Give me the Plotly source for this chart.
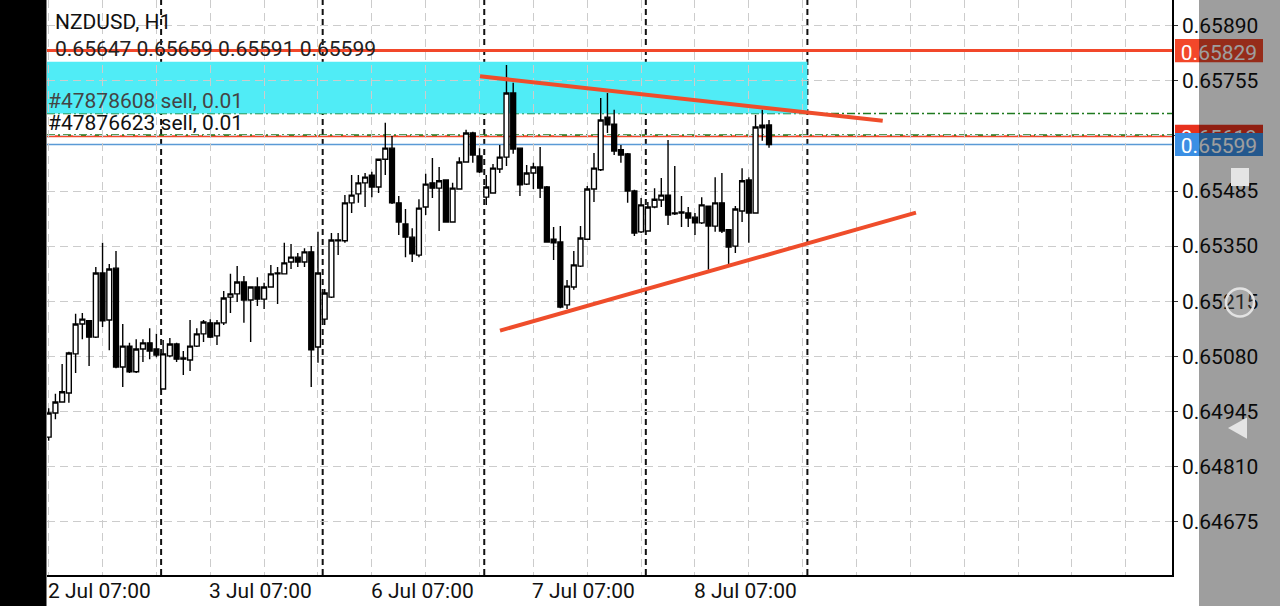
import plotly.graph_objects as go

# ---------------- data ----------------
symbol_title = "NZDUSD, H1"
ohlc_text = "0.65647 0.65659 0.65591 0.65599"

opens = [
    0.64882, 0.64941, 0.64968, 0.64990, 0.65086, 0.65159, 0.65167, 0.65127, 0.65284, 0.65169,
    0.65296, 0.65054, 0.65105, 0.65042, 0.65098, 0.65113, 0.65098, 0.65000, 0.65081, 0.65110,
    0.65076, 0.65071, 0.65105, 0.65135, 0.65162, 0.65130, 0.65162, 0.65225, 0.65233, 0.65262,
    0.65218, 0.65250, 0.65220, 0.65250, 0.65282, 0.65282, 0.65311, 0.65323, 0.65311, 0.65336,
    0.65103, 0.65171, 0.65225, 0.65365, 0.65363, 0.65456, 0.65478, 0.65505, 0.65524, 0.65495,
    0.65563, 0.65590, 0.65456, 0.65404, 0.65372, 0.65328, 0.65446, 0.65505, 0.65492, 0.65512,
    0.65409, 0.65490, 0.65556, 0.65627, 0.65571, 0.65470, 0.65480, 0.65539, 0.65568, 0.65725,
    0.65590, 0.65502, 0.65529, 0.65544, 0.65495, 0.65367, 0.65360, 0.65206, 0.65250, 0.65301,
    0.65367, 0.65490, 0.65537, 0.65666, 0.65649, 0.65586, 0.65576, 0.65485, 0.65385, 0.65387,
    0.65446, 0.65463, 0.65475, 0.65431, 0.65431, 0.65431, 0.65421, 0.65407, 0.65448, 0.65399,
    0.65456, 0.65390, 0.65350, 0.65436, 0.65512, 0.65431, 0.65640, 0.65647]

highs = [
    0.64953, 0.64988, 0.65061, 0.65091, 0.65184, 0.65186, 0.65169, 0.65299, 0.65358, 0.65306,
    0.65338, 0.65159, 0.65113, 0.65122, 0.65122, 0.65149, 0.65135, 0.65120, 0.65125, 0.65113,
    0.65093, 0.65169, 0.65149, 0.65169, 0.65171, 0.65169, 0.65240, 0.65282, 0.65301, 0.65277,
    0.65250, 0.65274, 0.65260, 0.65304, 0.65299, 0.65358, 0.65355, 0.65333, 0.65345, 0.65350,
    0.65385, 0.65245, 0.65382, 0.65382, 0.65475, 0.65524, 0.65524, 0.65529, 0.65532, 0.65563,
    0.65652, 0.65620, 0.65473, 0.65441, 0.65394, 0.65465, 0.65527, 0.65566, 0.65544, 0.65514,
    0.65505, 0.65568, 0.65635, 0.65630, 0.65590, 0.65524, 0.65551, 0.65598, 0.65794, 0.65750,
    0.65590, 0.65549, 0.65554, 0.65593, 0.65497, 0.65397, 0.65399, 0.65267, 0.65338, 0.65399,
    0.65497, 0.65578, 0.65713, 0.65725, 0.65684, 0.65598, 0.65578, 0.65488, 0.65468, 0.65458,
    0.65492, 0.65517, 0.65610, 0.65546, 0.65473, 0.65446, 0.65431, 0.65470, 0.65448, 0.65519,
    0.65529, 0.65390, 0.65448, 0.65541, 0.65519, 0.65671, 0.65684, 0.65659]

lows = [
    0.64873, 0.64926, 0.64966, 0.64966, 0.65039, 0.65122, 0.65056, 0.65125, 0.65152, 0.65095,
    0.65051, 0.65005, 0.65039, 0.65039, 0.65066, 0.65073, 0.65078, 0.64998, 0.65078, 0.65066,
    0.65034, 0.65044, 0.65103, 0.65115, 0.65125, 0.65108, 0.65157, 0.65186, 0.65213, 0.65162,
    0.65115, 0.65203, 0.65196, 0.65250, 0.65208, 0.65282, 0.65294, 0.65299, 0.65299, 0.65005,
    0.65064, 0.65157, 0.65223, 0.65328, 0.65358, 0.65431, 0.65456, 0.65446, 0.65470, 0.65480,
    0.65524, 0.65453, 0.65377, 0.65323, 0.65311, 0.65323, 0.65426, 0.65468, 0.65387, 0.65407,
    0.65409, 0.65488, 0.65554, 0.65554, 0.65529, 0.65451, 0.65480, 0.65529, 0.65546, 0.65576,
    0.65473, 0.65500, 0.65490, 0.65468, 0.65358, 0.65316, 0.65198, 0.65196, 0.65243, 0.65299,
    0.65365, 0.65458, 0.65534, 0.65627, 0.65573, 0.65554, 0.65456, 0.65375, 0.65382, 0.65385,
    0.65443, 0.65446, 0.65402, 0.65426, 0.65397, 0.65397, 0.65377, 0.65404, 0.65292, 0.65385,
    0.65382, 0.65306, 0.65333, 0.65409, 0.65358, 0.65429, 0.65608, 0.65591]

closes = [
    0.64941, 0.64968, 0.64993, 0.65088, 0.65159, 0.65171, 0.65127, 0.65284, 0.65167, 0.65294,
    0.65054, 0.65105, 0.65042, 0.65098, 0.65113, 0.65093, 0.65083, 0.65086, 0.65110, 0.65073,
    0.65073, 0.65105, 0.65135, 0.65164, 0.65127, 0.65162, 0.65223, 0.65233, 0.65262, 0.65218,
    0.65250, 0.65220, 0.65250, 0.65282, 0.65284, 0.65309, 0.65323, 0.65311, 0.65336, 0.65096,
    0.65284, 0.65235, 0.65365, 0.65363, 0.65456, 0.65475, 0.65505, 0.65519, 0.65495, 0.65563,
    0.65590, 0.65456, 0.65409, 0.65372, 0.65331, 0.65443, 0.65502, 0.65492, 0.65510, 0.65409,
    0.65492, 0.65556, 0.65627, 0.65573, 0.65532, 0.65495, 0.65541, 0.65568, 0.65725, 0.65588,
    0.65500, 0.65529, 0.65544, 0.65492, 0.65360, 0.65358, 0.65201, 0.65252, 0.65304, 0.65370,
    0.65490, 0.65541, 0.65659, 0.65647, 0.65583, 0.65573, 0.65485, 0.65382, 0.65451, 0.65446,
    0.65465, 0.65475, 0.65426, 0.65429, 0.65434, 0.65419, 0.65407, 0.65451, 0.65399, 0.65456,
    0.65387, 0.65348, 0.65441, 0.65510, 0.65431, 0.65642, 0.65646, 0.65599]

x_label_idx = [0, 24, 48, 72, 96]
x_label_text = ["2 Jul 07:00", "3 Jul 07:00", "6 Jul 07:00", "7 Jul 07:00", "8 Jul 07:00"]
day_start_idx = [17, 41, 65, 89, 113]          # 00:00 candle of each new day

price_tick0 = 0.64675
price_step = 0.00135
price_range = [0.645442, 0.659530]
bar_range = [-0.25, 166.86]

red_levels = [0.65829, 0.65619]                 # user horizontal lines
position_levels = [0.65675, 0.65622]            # open sell positions
position_labels = ["#47878608 sell, 0.01", "#47876623 sell, 0.01"]
bid_price = 0.65599
zone_idx = [-20, 113]
zone_prices = [0.65675, 0.65802]
trend_upper = {"idx": [64.07, 123.89], "price": [0.65766, 0.65657]}
trend_lower = {"idx": [67.04, 128.83], "price": [0.65143, 0.65432]}

# ---------------- geometry helpers ----------------
W, H = 1280, 606
ML, MR, MT, MB = 47, 108, 0, 31
PW, PH = W - ML - MR, H - MT - MB


def px_x(px):
    return (px - ML) / PW


def px_y(py):
    return 1 - (py - MT) / PH


price_per_px = (price_range[1] - price_range[0]) / PH
FONT = "Roboto, 'Noto Sans', sans-serif"
FS = 21
RED = "#f2472a"
BLUE = "#3b8fe4"
GREEN = "#1f7a1f"

idx = list(range(len(opens)))

fig = go.Figure()
fig.add_trace(go.Candlestick(
    x=idx, open=opens, high=highs, low=lows, close=closes,
    increasing=dict(fillcolor="white", line=dict(color="black", width=1.4)),
    decreasing=dict(fillcolor="black", line=dict(color="black", width=1.4)),
    whiskerwidth=0, hoverinfo="none", showlegend=False,
))

shapes = []
# cyan zone (below grid)
shapes.append(dict(type="rect", xref="x", yref="y", layer="below",
                   x0=zone_idx[0], x1=zone_idx[1] - 0.3, y0=zone_prices[0], y1=zone_prices[1],
                   fillcolor="rgb(80,236,246)", line=dict(width=0)))
# day separators
for d in day_start_idx:
    shapes.append(dict(type="line", xref="x", yref="paper", layer="between",
                       x0=d - 0.3, x1=d - 0.3, y0=0, y1=1,
                       line=dict(color="#111111", width=2, dash="6px,4px")))
# horizontal levels
shapes.append(dict(type="line", xref="paper", yref="y", layer="between", x0=0, x1=1,
                   y0=red_levels[0], y1=red_levels[0], line=dict(color=RED, width=3)))
shapes.append(dict(type="line", xref="paper", yref="y", layer="between", x0=0, x1=1,
                   y0=red_levels[1], y1=red_levels[1], line=dict(color=RED, width=2)))
for lv in position_levels:
    shapes.append(dict(type="line", xref="paper", yref="y", layer="between", x0=0, x1=1,
                       y0=lv, y1=lv, line=dict(color=GREEN, width=1.5, dash="8px,3px,2px,3px")))
shapes.append(dict(type="line", xref="paper", yref="y", layer="between", x0=0, x1=1,
                   y0=bid_price, y1=bid_price, line=dict(color="#5a9ad6", width=1.5)))
# trend lines
for tl in (trend_upper, trend_lower):
    shapes.append(dict(type="line", xref="x", yref="y", layer="above",
                       x0=tl["idx"][0], x1=tl["idx"][1], y0=tl["price"][0], y1=tl["price"][1],
                       line=dict(color="#ef4d2b", width=4)))

# price label boxes on the right scale
half_box = 11.6 * price_per_px
for price, color in ((red_levels[0], RED), (red_levels[1], "#e8321e"), (bid_price, BLUE)):
    shapes.append(dict(type="rect", xref="paper", yref="y", layer="above",
                       x0=px_x(1175), x1=px_x(1263), y0=price - half_box, y1=price + half_box,
                       fillcolor=color, line=dict(width=0),
                       label=dict(text=f"{price:.5f}", font=dict(color="white", size=FS, family=FONT),
                                  textposition="middle center")))
# left black strip
shapes.append(dict(type="rect", xref="paper", yref="paper", layer="above",
                   x0=px_x(0), x1=px_x(46.5), y0=px_y(H), y1=px_y(0),
                   fillcolor="black", line=dict(width=0)))
# right translucent navigation strip
shapes.append(dict(type="rect", xref="paper", yref="paper", layer="above",
                   x0=px_x(1199), x1=px_x(W), y0=px_y(H), y1=px_y(0),
                   fillcolor="rgba(0,0,0,0.38)", line=dict(width=0)))
# navigation icons
shapes.append(dict(type="rect", xref="paper", yref="paper", layer="above",
                   x0=px_x(1231), x1=px_x(1249), y0=px_y(186), y1=px_y(168),
                   fillcolor="#e4e4e4", line=dict(width=0)))
shapes.append(dict(type="circle", xref="paper", yref="paper", layer="above",
                   x0=px_x(1226), x1=px_x(1254), y0=px_y(316.5), y1=px_y(288.5),
                   fillcolor="rgba(255,255,255,0.12)", line=dict(color="#e2e2e2", width=2.5)))
tri = [(1228, 428), (1247, 417.5), (1247, 438.7)]
path = "M " + " L ".join(f"{px_x(a):.5f},{px_y(b):.5f}" for a, b in tri) + " Z"
shapes.append(dict(type="path", xref="paper", yref="paper", layer="above", path=path,
                   fillcolor="#e4e4e4", line=dict(width=0)))

annotations = []
annotations.append(dict(text=symbol_title, xref="paper", yref="paper", x=px_x(53), y=px_y(22.5),
                        xanchor="left", yanchor="middle", showarrow=False,
                        font=dict(family=FONT, size=FS, color="#111111")))
annotations.append(dict(text=ohlc_text, xref="paper", yref="paper", x=px_x(53), y=px_y(49),
                        xanchor="left", yanchor="middle", showarrow=False,
                        font=dict(family=FONT, size=FS, color="#222222")))
for lv, txt, col in zip(position_levels, position_labels, ["#444444", "#111111"]):
    annotations.append(dict(text=txt, xref="paper", yref="y", x=px_x(46), y=lv,
                            xanchor="left", yanchor="bottom", yshift=-2, showarrow=False,
                            font=dict(family=FONT, size=FS, color=col)))
for i, t in zip(x_label_idx, x_label_text):
    annotations.append(dict(text=t, xref="x", yref="paper", x=i, y=px_y(591), xshift=-3,
                            xanchor="left", yanchor="middle", showarrow=False,
                            font=dict(family=FONT, size=FS, color="#111111")))

fig.update_layout(
    width=W, height=H,
    margin=dict(l=ML, r=MR, t=MT, b=MB, pad=0),
    paper_bgcolor="white", plot_bgcolor="white",
    shapes=shapes, annotations=annotations,
    boxgap=0.28, boxgroupgap=0.0,
    showlegend=False,
    xaxis=dict(range=bar_range, rangeslider=dict(visible=False), tickmode="linear", tick0=0, dtick=8,
               showticklabels=False, ticks="", showgrid=True, gridcolor="#cccccc", gridwidth=1,
               griddash="8px,5px", zeroline=False, showline=True, linecolor="black", linewidth=1.5),
    yaxis=dict(range=price_range, side="right", tickmode="linear", tick0=price_tick0, dtick=price_step,
               tickformat=".5f", ticks="outside", ticklen=4, tickcolor="#333333",
               tickfont=dict(family=FONT, size=FS, color="#111111"),
               showgrid=True, gridcolor="#cccccc", gridwidth=1, griddash="8px,5px",
               zeroline=False, showline=True, linecolor="black", linewidth=1.5),
)

fig.write_html("out.html", config={"displayModeBar": False},
               post_script="document.body.style.margin='0';")
